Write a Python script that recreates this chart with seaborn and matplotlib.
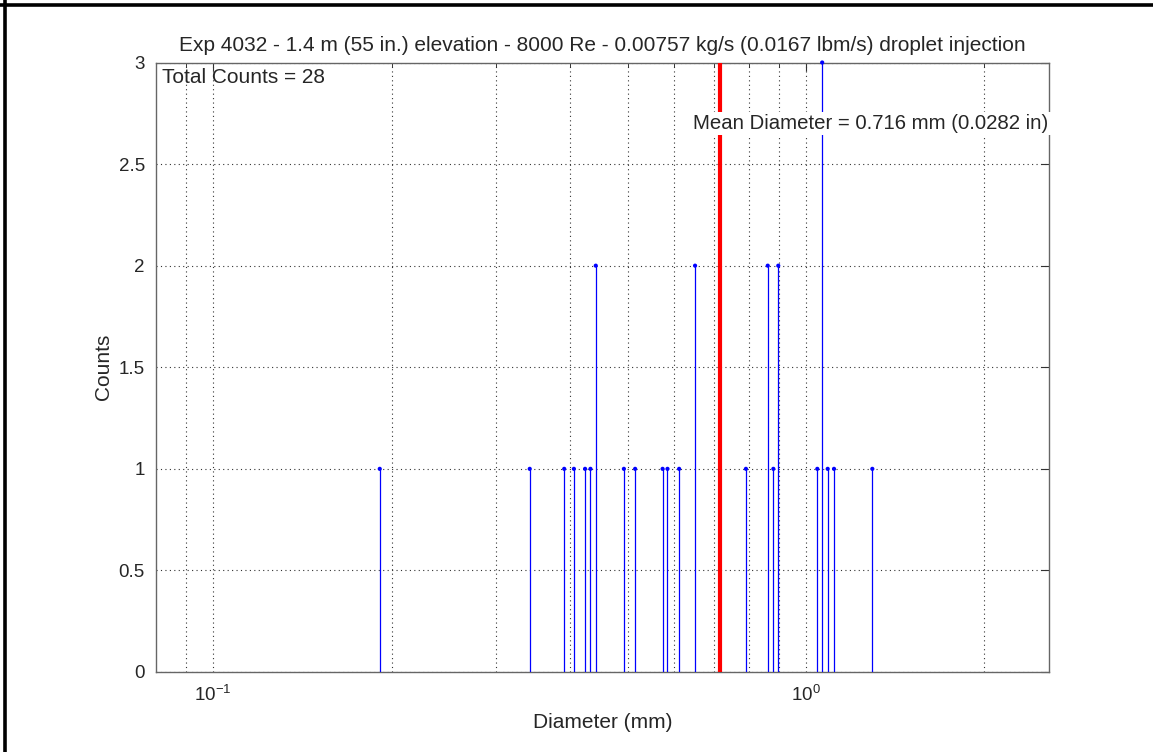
import matplotlib
matplotlib.use("Agg")
import matplotlib.pyplot as plt
import matplotlib.ticker as mticker
from matplotlib.lines import Line2D
import numpy as np
import pandas as pd
import seaborn as sns

# droplet diameters (mm) and counts
diameters = [0.191, 0.342, 0.391, 0.406, 0.424, 0.433, 0.442, 0.493, 0.515,
             0.573, 0.584, 0.611, 0.650, 0.792, 0.862, 0.881, 0.898, 1.045,
             1.065, 1.088, 1.115, 1.294]
counts = [1, 1, 1, 1, 1, 1, 2, 1, 1,
          1, 1, 1, 2, 1, 2, 1, 2, 1,
          3, 1, 1, 1]
mean_diameter = 0.716   # mm
mean_diameter_in = 0.0282
total_counts = 28
title = ("Exp 4032 - 1.4 m (55 in.) elevation - 8000 Re - 0.00757 kg/s "
         "(0.0167 lbm/s) droplet injection")

df = pd.DataFrame({"Diameter": diameters, "Counts": counts})

sns.set_theme(style="white")
plt.rcParams["font.family"] = ["Liberation Sans", "DejaVu Sans"]
plt.rcParams["mathtext.fontset"] = "custom"
plt.rcParams["mathtext.rm"] = "Liberation Sans"
plt.rcParams["mathtext.it"] = "Liberation Sans:italic"

fig = plt.figure(figsize=(11.53, 7.52), dpi=100)
W, H = 1153, 752
ax = fig.add_axes([156 / W, 1 - 672 / H, (1049 - 156) / W, (672 - 62.5) / H])

ax.set_xscale("log")
ax.set_xlim(0.0801, 2.57)
ax.set_ylim(0, 3)

# grid (MATLAB style dotted, major + minor on log axis)
ax.set_yticks([0, 0.5, 1, 1.5, 2, 2.5, 3])
ax.yaxis.set_major_formatter(mticker.FuncFormatter(lambda v, p: f"{v:g}"))
ax.xaxis.set_major_locator(mticker.LogLocator(base=10))
ax.xaxis.set_minor_locator(mticker.LogLocator(base=10, subs=np.arange(2, 10)))
ax.xaxis.set_minor_formatter(mticker.NullFormatter())
ax.grid(True, which="both", axis="x", linestyle=(0, (1, 3)), color="0.2", linewidth=0.8)
ax.grid(True, which="major", axis="y", linestyle=(0, (1, 3)), color="0.2", linewidth=0.8)
ax.set_axisbelow(True)

# stems
ax.vlines(df["Diameter"], 0, df["Counts"], color="blue", linewidth=0.9, zorder=3)
sns.scatterplot(data=df, x="Diameter", y="Counts", ax=ax, color="blue",
                marker="o", s=9, edgecolor="none", zorder=4, clip_on=False)

ax.axvline(mean_diameter, color="red", linewidth=3, zorder=5)

ax.text(0.0819, 2.926, f"Total Counts = {total_counts}", fontsize=15,
        va="center", ha="left", zorder=6)
ax.text(0.646, 2.70,
        f"Mean Diameter = {mean_diameter:.3f} mm ({mean_diameter_in:.4f} in)",
        fontsize=14.7, va="center", ha="left", zorder=6,
        bbox=dict(facecolor="white", edgecolor="none", pad=1.5))

ax.set_title(title, fontsize=15, pad=8)
ax.set_xlabel("Diameter (mm)", fontsize=15, labelpad=6)
ax.set_ylabel("Counts", fontsize=15, labelpad=4)

ax.tick_params(axis="both", which="both", direction="in", top=True, right=True,
               labelsize=13.5, color="0.2")
ax.tick_params(axis="both", which="major", length=6, width=0.8)
ax.tick_params(axis="x", which="minor", length=3, width=0.7)
ax.tick_params(axis="x", which="major", pad=9)
ax.tick_params(axis="y", which="major", pad=8)
for s in ax.spines.values():
    s.set_visible(True)
    s.set_color("0.4")
    s.set_linewidth(1.0)

# black frame lines on the top and left of the figure
fig.add_artist(Line2D([0, 1], [1 - 4.5 / H, 1 - 4.5 / H], color="black",
                      linewidth=2.6, transform=fig.transFigure))
fig.add_artist(Line2D([5 / W, 5 / W], [0, 1], color="black",
                      linewidth=2.6, transform=fig.transFigure))

fig.savefig("out.png", dpi=100)
